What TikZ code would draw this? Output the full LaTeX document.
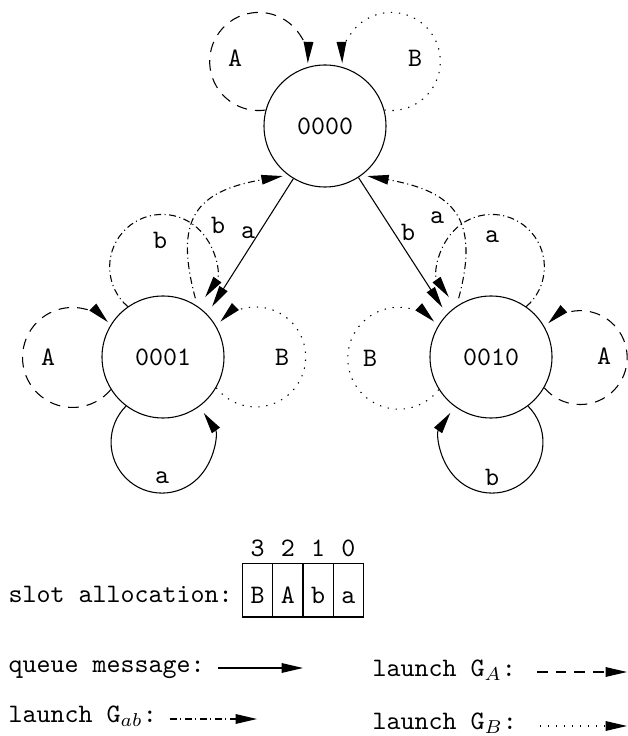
\documentclass[tikz,border=0pt]{standalone}
\usetikzlibrary{arrows.meta}
\begin{document}
\begin{tikzpicture}[x=0.375pt,y=0.375pt,
  st/.style={draw, circle, minimum size=45.75pt, inner sep=0pt, font=\ttfamily},
  lbl/.style={font=\ttfamily, inner sep=0pt},
  tipend/.style={-{Triangle[length=8pt,width=3.6pt]}},
  qmsg/.style={tipend},
  gA/.style={tipend, dash pattern=on 4pt off 3pt},
  gB/.style={tipend, dash pattern=on 0.5pt off 2.5pt},
  gab/.style={tipend, dash pattern=on 2.6pt off 1.3pt on 0.4pt off 1.3pt},
  cell/.style={draw, minimum width=11.34pt, minimum height=19.9pt, inner sep=0pt,
               text height=12pt, text depth=2.6pt, font=\ttfamily}]
\useasboundingbox (0,0) rectangle (628,736);

% states
\node[st] (n0) at (325,610) {0000};
\node[st] (n1) at (163,379) {0001};
\node[st] (n2) at (491,379) {0010};

% loops of 0000
\draw[gA] (n0.165) arc[start angle=-82, end angle=-362, radius=18.4pt];
\draw[gB] (n0.15) arc[start angle=-98, end angle=182, radius=18.4pt];
\node[lbl] (l0A) at (235,678) {A};
\node[lbl] (l0B) at (415,678) {B};

% loops of 0001
\draw[gab] (n1.125) arc[start angle=-131, end angle=-395, radius=19.7pt];
\draw[gA] (n1.-148) arc[start angle=-40, end angle=-315, radius=18.75pt];
\draw[gB] (n1.-30) arc[start angle=-142, end angle=135, radius=18.75pt];
\draw[qmsg] (n1.-127) arc[start angle=135, end angle=395, radius=19.1pt];
\node[lbl] (l1b) at (160,496) {b};
\node[lbl] (l1A) at (48,379) {A};
\node[lbl] (l1B) at (282,379) {B};
\node[lbl] (l1a) at (162,258) {a};

% loops of 0010
\draw[gab] (n2.55) arc[start angle=-49, end angle=215, radius=19.7pt];
\draw[gB] (n2.-148) arc[start angle=-38, end angle=-314, radius=19.1pt];
\draw[gA] (n2.-30) arc[start angle=-140, end angle=133, radius=17.6pt];
\draw[qmsg] (n2.-53) arc[start angle=45, end angle=-215, radius=19.1pt];
\node[lbl] (l2a) at (492,499) {a};
\node[lbl] (l2B) at (370,378) {B};
\node[lbl] (l2A) at (604,380) {A};
\node[lbl] (l2b) at (492,259) {b};

% transitions
\draw[qmsg, shorten >=3.4pt] (n0.-121) -- (n1.44);
\draw[qmsg, shorten >=3pt] (n0.-57) -- (n2.136);
\draw[gab, shorten <=3pt, shorten >=2pt] (n1.56) .. controls +(105:33.8pt) and +(190:35.3pt) .. (n0.-127);
\draw[gab, shorten <=3pt, shorten >=2pt] (n2.124) .. controls +(75:33.8pt) and +(-10:35.3pt) .. (n0.-53);
\node[lbl] (e10) at (218,511) {b};
\node[lbl] (e01) at (248,503) {a};
\node[lbl] (e02) at (408,504) {b};
\node[lbl] (e20) at (437,518) {a};

% slot allocation
\node[lbl, anchor=base west] (tslot) at (8,133) {slot allocation:};
\node[cell] (c3) at (257.6,145.5) {B};
\node[cell] (c2) at (287.9,145.5) {A};
\node[cell] (c1) at (318.1,145.5) {b};
\node[cell] (c0) at (348.4,145.5) {a};
\node[lbl, anchor=base] (d3) at (257.6,179) {3};
\node[lbl, anchor=base] (d2) at (287.9,179) {2};
\node[lbl, anchor=base] (d1) at (318.1,179) {1};
\node[lbl, anchor=base] (d0) at (348.4,179) {0};

% legend
\node[lbl, anchor=base west] (tq) at (8,63) {queue message:};
\coordinate (q1) at (218,68); \coordinate (q2) at (303,68);
\draw[qmsg] (q1) -- (q2);
\node[lbl, anchor=base west] (tab) at (8,13) {launch G$_{ab}$:};
\coordinate (ab1) at (170,17); \coordinate (ab2) at (257,17);
\draw[gab] (ab1) -- (ab2);
\node[lbl, anchor=base west] (tA) at (372,59) {launch G$_A$:};
\coordinate (A1) at (537,64); \coordinate (A2) at (627,64);
\draw[gA] (A1) -- (A2);
\node[lbl, anchor=base west] (tB) at (372,6) {launch G$_B$:};
\coordinate (B1) at (540,10); \coordinate (B2) at (627,10);
\draw[gB] (B1) -- (B2);
\end{tikzpicture}
\end{document}
